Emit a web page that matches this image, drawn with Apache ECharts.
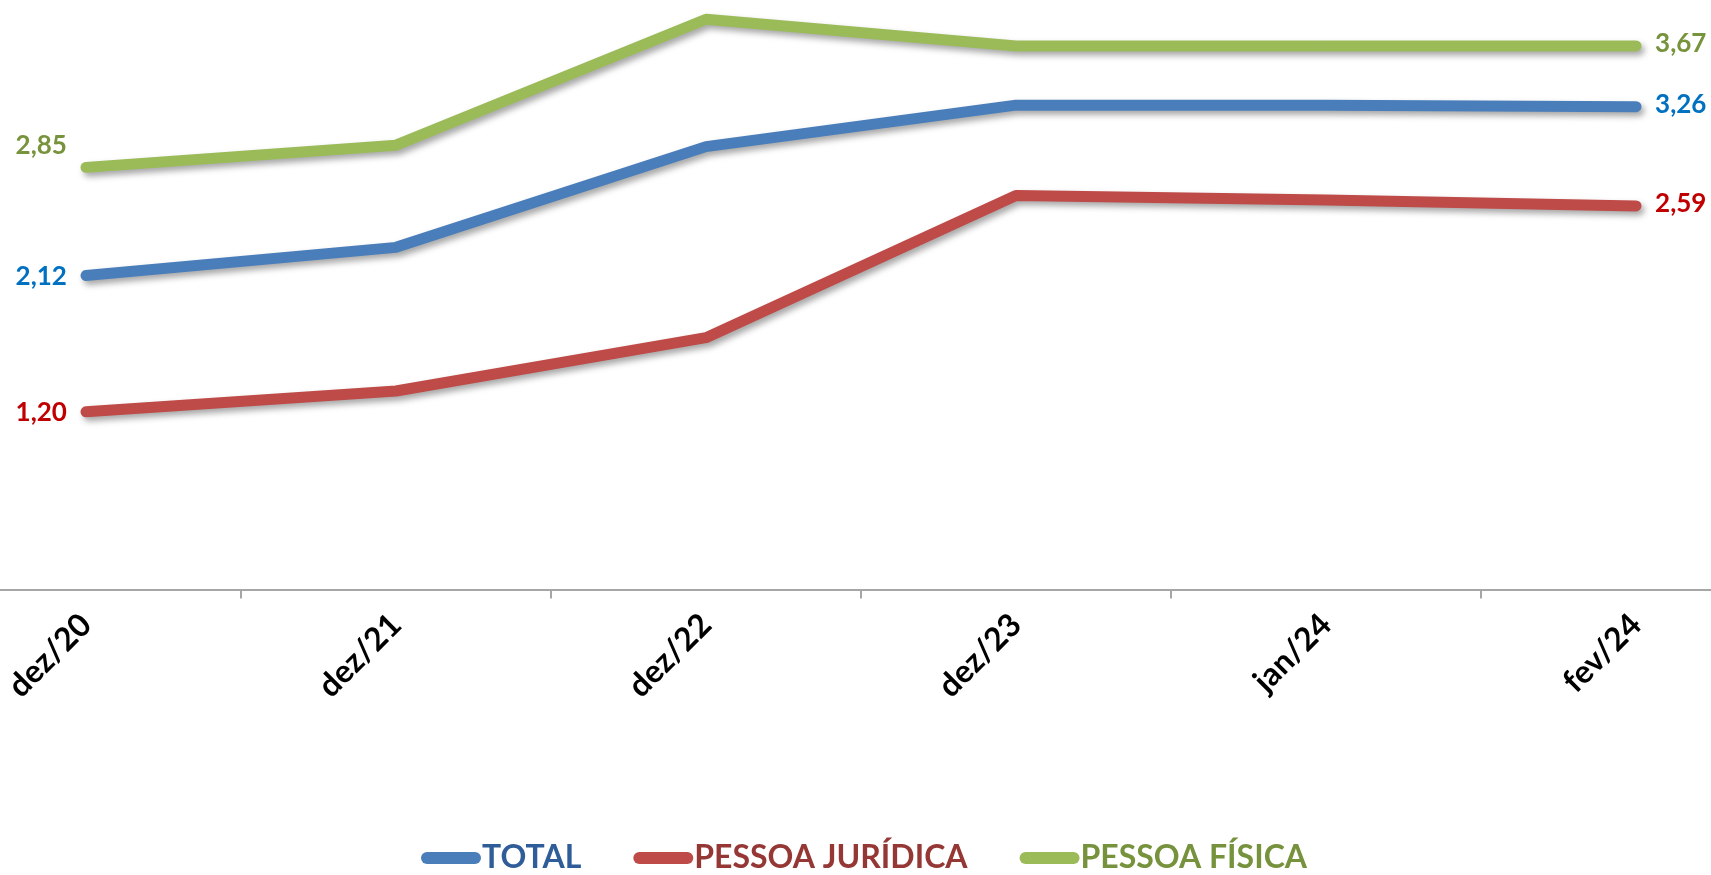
<!DOCTYPE html>
<html lang="pt">
<head>
    <meta charset="UTF-8">
    <title>Evolução</title>
    <script type="text/javascript" src="https://cdn.jsdelivr.net/npm/echarts@6/dist/echarts.min.js"></script>
    <style>
        html, body { margin: 0; padding: 0; background: #fff; }
    </style>
</head>
<body>
<div id="main" style="width: 1711px;height:875px;"></div>

<script type="text/javascript">
    // categorias (eixo X)
    var meses = ['dez/20', 'dez/21', 'dez/22', 'dez/23', 'jan/24', 'fev/24'];
    // séries
    var total = [2.12, 2.31, 2.99, 3.27, 3.27, 3.26];
    var pessoaJuridica = [1.20, 1.34, 1.70, 2.66, 2.63, 2.59];
    var pessoaFisica = [2.85, 3.00, 3.85, 3.67, 3.67, 3.67];

    var fonte = 'Lato, "Open Sans", sans-serif';

    // o gráfico original está "cortado" nas laterais: meia categoria sai da tela
    var xMin = -0.2774, xMax = 5.2419;
    var posCateg = meses.map(function (m, i) { return i; });
    var posTicks = [0.5, 1.5, 2.5, 3.5, 4.5];

    // só o primeiro e o último ponto levam rótulo
    function comRotulos(valores, cor, deslocIni) {
        return valores.map(function (v, i) {
            var item = { value: [i, v] };
            if (i === 0 || i === valores.length - 1) {
                item.label = {
                    show: true,
                    position: i === 0 ? 'left' : 'right',
                    distance: 19,
                    offset: i === 0 ? (deslocIni || [0, 1]) : [0, -2],
                    color: cor,
                    fontSize: 26,
                    fontWeight: 'bold',
                    fontFamily: fonte,
                    formatter: function (p) { return p.value[1].toFixed(2).replace('.', ','); }
                };
            }
            return item;
        });
    }

    function linha(nome, cor, dados) {
        return {
            name: nome,
            type: 'line',
            data: dados,
            symbol: 'circle',
            symbolSize: 0.1,
            showSymbol: true,
            smooth: false,
            lineStyle: {
                color: cor,
                width: 11,
                cap: 'round',
                join: 'round',
                shadowColor: 'rgba(0,0,0,0.35)',
                shadowBlur: 6,
                shadowOffsetX: 3,
                shadowOffsetY: 4
            },
            itemStyle: { color: cor },
            emphasis: { disabled: true }
        };
    }

    var pilula = 'path://M6,0 L54,0 A6,6 0 0 1 54,12 L6,12 A6,6 0 0 1 6,0 Z';

    var myChart = echarts.init(document.getElementById('main'));
    myChart.setOption({
        animation: false,
        grid: { left: 0, right: 0, top: 0, bottom: 285.5, containLabel: false },
        legend: {
            left: 416,
            top: 837,
            itemWidth: 60,
            itemHeight: 12,
            itemGap: 52,
            icon: pilula,
            textStyle: { fontSize: 32, fontWeight: 'bold', fontFamily: fonte, padding: [0, 0, 0, -4] },
            data: [
                { name: 'TOTAL', textStyle: { color: '#2f5d99' } },
                { name: 'PESSOA JURÍDICA', textStyle: { color: '#953735' } },
                { name: 'PESSOA FÍSICA', textStyle: { color: '#76923c' } }
            ]
        },
        xAxis: {
            type: 'value',
            min: xMin,
            max: xMax,
            splitLine: { show: false },
            axisLine: { show: true, onZero: false, lineStyle: { color: '#a6a6a6', width: 2 } },
            axisTick: { show: true, length: 9, customValues: posTicks, lineStyle: { color: '#a6a6a6', width: 2 } },
            axisLabel: {
                customValues: posCateg,
                rotate: 45,
                margin: 30,
                color: '#000',
                fontSize: 32,
                fontWeight: 'bold',
                fontFamily: fonte,
                formatter: function (v) { return meses[Math.round(v)]; }
            }
        },
        yAxis: {
            type: 'value',
            min: 0,
            max: 3.98,
            show: false,
            splitLine: { show: false }
        },
        series: [
            linha('TOTAL', '#4a7ebb', comRotulos(total, '#0070c0')),
            linha('PESSOA JURÍDICA', '#be4b48', comRotulos(pessoaJuridica, '#c00000')),
            linha('PESSOA FÍSICA', '#9bbb59', comRotulos(pessoaFisica, '#77933c', [0, -22]))
        ]
    });
</script>
</body>
</html>
